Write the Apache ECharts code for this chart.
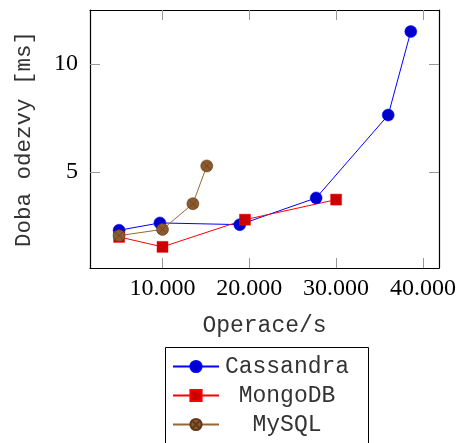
<!DOCTYPE html>
<html>
<head>
<meta charset="utf-8">
<script src="https://cdn.jsdelivr.net/npm/echarts@6/dist/echarts.min.js"></script>
<style>
  html, body { margin: 0; padding: 0; background: #fff; }
  #chart { width: 462px; height: 443px; }
</style>
</head>
<body>
<div id="chart"></div>
<script>
// values
const cassX = [5000, 9700, 18900, 27700, 36000, 38600];
const cassY = [2.30, 2.64, 2.56, 3.80, 7.64, 11.51];
const mongoX = [5000, 10000, 19500, 30000];
const mongoY = [1.99, 1.53, 2.79, 3.72];
const mysqlX = [5000, 10000, 13500, 15100];
const mysqlY = [2.05, 2.34, 3.53, 5.28];

const xTicks = [10000, 20000, 30000, 40000];
const yTicks = [5, 10];

const serif = '"Liberation Serif", "DejaVu Serif", serif';
const mono = '"Liberation Mono", "DejaVu Sans Mono", monospace';

// circle with a cross (pgfplots otimes)
const otimes = 'path://M0,-10A10,10 0 1,1 0,10A10,10 0 1,1 0,-10Z M-7,-7L7,7M7,-7L-7,7';

const pairs = (xs, ys) => xs.map((x, i) => [x, ys[i]]);
const fmtThousands = (v) => String(v).replace(/\B(?=(\d{3})+(?!\d))/g, '.');

const chart = echarts.init(document.getElementById('chart'));

const tickStyle = { show: true, inside: true, length: 10, lineStyle: { color: '#999', width: 1 } };

chart.setOption({
  animation: false,
  grid: { left: 90, right: 23, top: 10, bottom: 175 },
  // legend frame runs past the bottom edge, as in the reference
  graphic: [
    {
      type: 'rect',
      left: 163,
      top: 345,
      shape: { width: 203, height: 120 },
      style: { fill: 'none', stroke: '#000', lineWidth: 1 },
      silent: true,
    },
  ],
  legend: {
    orient: 'vertical',
    left: 163,
    top: 345,
    padding: [10, 18, 0, 9],
    itemGap: 6,
    itemWidth: 46,
    itemHeight: 14,
    formatter: (name) => `{c|${name}}`,
    textStyle: {
      fontFamily: mono,
      fontSize: 23,
      color: '#333',
      rich: { c: { width: 126, align: 'center', fontFamily: mono, fontSize: 23, color: '#333' } },
    },
    data: ['Cassandra', 'MongoDB', 'MySQL'],
  },
  xAxis: [
    {
      type: 'value',
      min: 1650,
      max: 41850,
      name: 'Operace/s',
      nameLocation: 'middle',
      nameGap: 46,
      nameTextStyle: { fontFamily: mono, fontSize: 23, color: '#333' },
      axisLine: { show: true, onZero: false, lineStyle: { color: '#000', width: 1.2 } },
      axisTick: { ...tickStyle, customValues: xTicks },
      axisLabel: {
        customValues: xTicks,
        margin: 9,
        fontFamily: serif,
        fontSize: 24,
        color: '#000',
        formatter: fmtThousands,
      },
      splitLine: { show: false },
    },
    {
      type: 'value',
      position: 'top',
      min: 1650,
      max: 41850,
      axisLine: { show: true, onZero: false, lineStyle: { color: '#000', width: 1.2 } },
      axisTick: { ...tickStyle, customValues: xTicks },
      axisLabel: { show: false },
      splitLine: { show: false },
    },
  ],
  yAxis: [
    {
      type: 'value',
      min: 0.55,
      max: 12.51,
      name: 'Doba odezvy [ms]',
      nameLocation: 'middle',
      nameGap: 54,
      nameTextStyle: { fontFamily: mono, fontSize: 22.5, color: '#333' },
      axisLine: { show: true, onZero: false, lineStyle: { color: '#000', width: 1.2 } },
      axisTick: { ...tickStyle, customValues: yTicks },
      axisLabel: { customValues: yTicks, margin: 12, fontFamily: serif, fontSize: 24, color: '#000' },
      splitLine: { show: false },
    },
    {
      type: 'value',
      position: 'right',
      min: 0.55,
      max: 12.51,
      axisLine: { show: true, onZero: false, lineStyle: { color: '#000', width: 1.2 } },
      axisTick: { ...tickStyle, customValues: yTicks },
      axisLabel: { show: false },
      splitLine: { show: false },
    },
  ],
  series: [
    {
      name: 'Cassandra',
      type: 'line',
      data: pairs(cassX, cassY),
      symbol: 'circle',
      symbolSize: 12,
      lineStyle: { color: '#0000ff', width: 1 },
      itemStyle: { color: '#0000cc', borderColor: '#0000ff', borderWidth: 0.5 },
    },
    {
      name: 'MongoDB',
      type: 'line',
      data: pairs(mongoX, mongoY),
      symbol: 'rect',
      symbolSize: 11,
      lineStyle: { color: '#ff0000', width: 1 },
      itemStyle: { color: '#cc0000', borderColor: '#ff0000', borderWidth: 0.5 },
    },
    {
      name: 'MySQL',
      type: 'line',
      data: pairs(mysqlX, mysqlY),
      symbol: otimes,
      symbolSize: 12,
      lineStyle: { color: '#996633', width: 1 },
      itemStyle: { color: '#8c5a2e', borderColor: '#5e3a1a', borderWidth: 0.6 },
    },
  ],
});
</script>
</body>
</html>
